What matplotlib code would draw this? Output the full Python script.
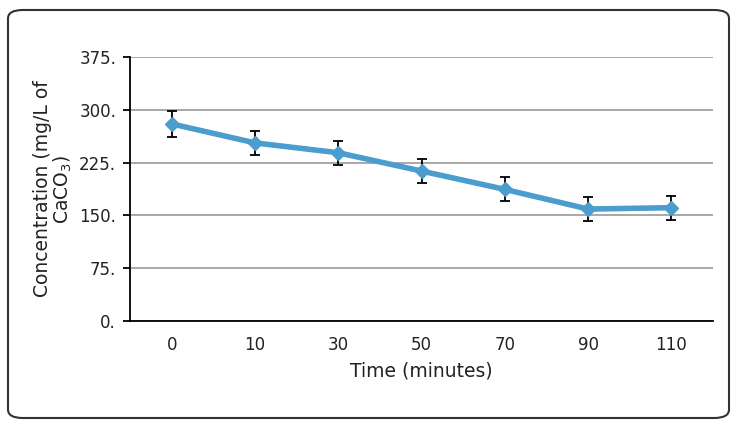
import numpy as np
import matplotlib.pyplot as plt
from matplotlib.patches import FancyBboxPatch
from matplotlib.ticker import FuncFormatter

# data
times = ['0', '10', '30', '50', '70', '90', '110']
conc = [280, 253, 239, 213, 187, 159, 161]
err = [18, 17, 17, 17, 17, 17, 17]
y_ticks = [0, 75, 150, 225, 300, 375]

fig = plt.figure(figsize=(7.37, 4.26), dpi=100)
ax = fig.add_axes([130 / 737, 1 - 321 / 426, 583 / 737, 264 / 426])

# rounded border around the whole chart
border = FancyBboxPatch((8 / 737, 8 / 426), 721 / 737, 408 / 426,
                        boxstyle='round,pad=0,rounding_size=0.02',
                        transform=fig.transFigure, fill=False,
                        edgecolor='#333333', linewidth=1.5)
fig.patches.append(border)

x = np.arange(len(times))
ax.errorbar(x, conc, yerr=err, color='#4a9dcc', linewidth=4,
            marker='D', markersize=7, ecolor='black', elinewidth=1.3,
            capsize=3.5, capthick=1.3, zorder=3)

ax.set_xlim(-0.5, len(times) - 0.5)
ax.set_ylim(0, 375)
ax.set_yticks(y_ticks)
ax.yaxis.set_major_formatter(FuncFormatter(lambda v, p: f'{int(v)}.'))
ax.set_xticks(x)
ax.set_xticklabels(times)
ax.grid(axis='y', color='#999999', linewidth=1.2)
ax.set_axisbelow(True)

for s in ['top', 'right']:
    ax.spines[s].set_visible(False)
for s in ['left', 'bottom']:
    ax.spines[s].set_color('black')
    ax.spines[s].set_linewidth(1.3)

ax.tick_params(axis='y', labelsize=12, length=5, width=1.3, pad=5,
               labelcolor='#222222')
ax.tick_params(axis='x', labelsize=12, length=0, pad=11,
               labelcolor='#222222')

ax.set_xlabel('Time (minutes)', fontsize=13.5, labelpad=5, color='#222222')
ax.set_ylabel('Concentration (mg/L of\nCaCO$_3$)', fontsize=13.5, labelpad=4,
              linespacing=0.95, color='#222222')

plt.savefig('out.png', dpi=100)
